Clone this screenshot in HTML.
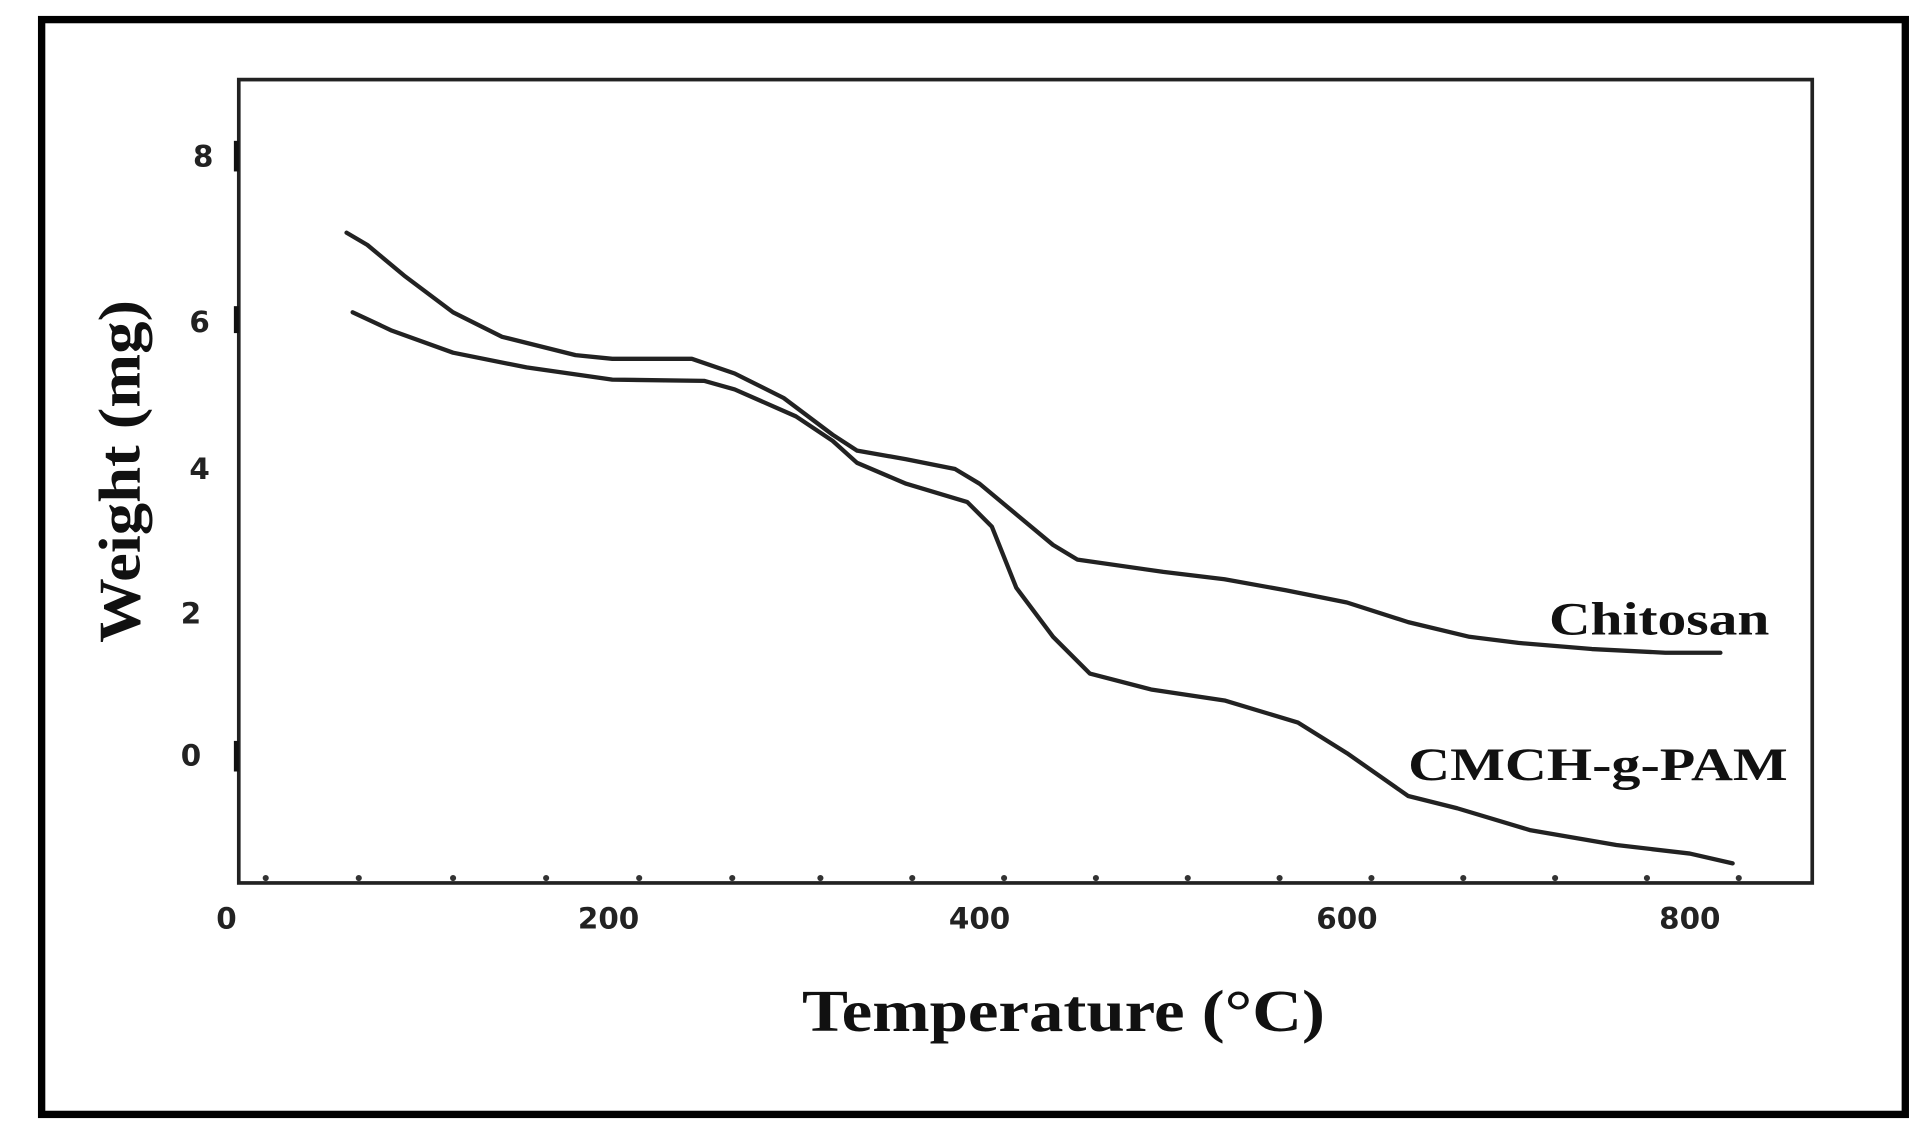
<!DOCTYPE html>
<html><head><meta charset="utf-8"><style>
html,body{margin:0;padding:0;background:#fff;}
svg{display:block;}
</style></head><body>
<svg width="1920" height="1134" viewBox="0 0 1568 926" preserveAspectRatio="none" xmlns="http://www.w3.org/2000/svg">
<rect x="0" y="0" width="1568" height="926" fill="#fff"/>
<rect x="34" y="16" width="1522" height="894" fill="none" stroke="#000" stroke-width="6"/>
<rect x="195" y="65" width="1285" height="656" fill="none" stroke="#222" stroke-width="3"/>
<g stroke="#111" stroke-width="4">
<line x1="193" y1="115" x2="193" y2="140"/><line x1="193" y1="250" x2="193" y2="272"/>
<line x1="193" y1="605" x2="193" y2="630"/>
</g>
<g fill="#333">
<circle cx="217" cy="717" r="2.5"/><circle cx="293" cy="717" r="2.5"/><circle cx="370" cy="717" r="2.5"/>
<circle cx="446" cy="717" r="2.5"/><circle cx="522" cy="717" r="2.5"/><circle cx="598" cy="717" r="2.5"/>
<circle cx="670" cy="717" r="2.5"/><circle cx="745" cy="717" r="2.5"/><circle cx="820" cy="717" r="2.5"/>
<circle cx="895" cy="717" r="2.5"/><circle cx="970" cy="717" r="2.5"/><circle cx="1045" cy="717" r="2.5"/>
<circle cx="1120" cy="717" r="2.5"/><circle cx="1195" cy="717" r="2.5"/><circle cx="1270" cy="717" r="2.5"/>
<circle cx="1345" cy="717" r="2.5"/><circle cx="1420" cy="717" r="2.5"/>
</g>
<g font-family="DejaVu Sans, sans-serif" font-weight="bold" font-size="24" fill="#222" text-anchor="middle">
<text x="166" y="136">8</text><text x="163" y="271">6</text><text x="163" y="391">4</text>
<text x="156" y="509">2</text><text x="156" y="625">0</text>
<text x="185" y="758">0</text><text x="497" y="758">200</text><text x="800" y="758">400</text>
<text x="1100" y="758">600</text><text x="1380" y="758">800</text>
</g>
<text x="655" y="842" font-family="Liberation Serif, serif" font-weight="bold" font-size="48" fill="#111" textLength="427" lengthAdjust="spacingAndGlyphs">Temperature (°C)</text>
<text transform="translate(114,525) rotate(-90)" font-family="Liberation Serif, serif" font-weight="bold" font-size="48" fill="#111" textLength="280" lengthAdjust="spacingAndGlyphs">Weight (mg)</text>
<text x="1265" y="518" font-family="Liberation Serif, serif" font-weight="bold" font-size="38" fill="#111" textLength="180" lengthAdjust="spacingAndGlyphs">Chitosan</text>
<text x="1150" y="637" font-family="Liberation Serif, serif" font-weight="bold" font-size="38" fill="#111" textLength="310" lengthAdjust="spacingAndGlyphs">CMCH-g-PAM</text>
<g fill="none" stroke="#222" stroke-width="3.5" stroke-linejoin="round" stroke-linecap="round">
<polyline points="283,190 300,200 330,225 370,255 410,275 470,290 500,293 565,293 600,305 640,325 680,355 700,368 740,375 780,383 800,395 830,420 860,445 880,457 950,467 1000,473 1050,482 1100,492 1150,508 1200,520 1240,525 1300,530 1360,533 1405,533"/>
<polyline points="288,255 320,270 370,288 430,300 500,310 575,311 600,318 650,340 680,360 700,378 740,395 790,410 810,430 830,480 860,520 890,550 940,563 1000,572 1060,590 1100,615 1150,650 1190,660 1250,678 1320,690 1380,697 1415,705"/>
</g>
</svg>
</body></html>
